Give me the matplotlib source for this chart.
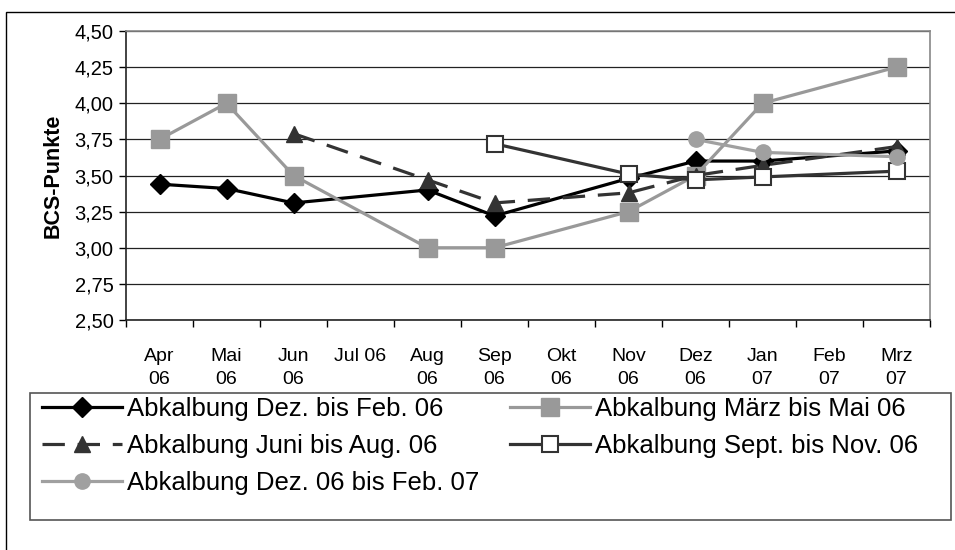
import numpy as np
import matplotlib
matplotlib.use('Agg')
import matplotlib.pyplot as plt
from matplotlib.patches import Rectangle
from matplotlib.ticker import FuncFormatter

plt.rcParams['font.family'] = ['Liberation Sans', 'DejaVu Sans']

# ---------------- data ----------------
months = ['Apr\n06', 'Mai\n06', 'Jun\n06', 'Jul 06', 'Aug\n06', 'Sep\n06',
          'Okt\n06', 'Nov\n06', 'Dez\n06', 'Jan\n07', 'Feb\n07', 'Mrz\n07']

dez_feb_06 = [3.44, 3.41, 3.31, None, 3.40, 3.22, None, 3.48, 3.60, 3.60, None, 3.67]
maerz_mai_06 = [3.75, 4.00, 3.50, None, 3.00, 3.00, None, 3.25, 3.50, 4.00, None, 4.25]
juni_aug_06 = [None, None, 3.79, None, 3.47, 3.31, None, 3.38, 3.50, 3.57, None, 3.70]
sept_nov_06 = [None, None, None, None, None, 3.72, None, 3.51, 3.47, 3.49, None, 3.53]
dez06_feb07 = [None, None, None, None, None, None, None, None, 3.75, 3.66, None, 3.63]

labels = ['Abkalbung Dez. bis Feb. 06', 'Abkalbung März bis Mai 06',
          'Abkalbung Juni bis Aug. 06', 'Abkalbung Sept. bis Nov. 06',
          'Abkalbung Dez. 06 bis Feb. 07']

W, H = 955, 550
fig = plt.figure(figsize=(W / 100, H / 100), dpi=100)
ax = fig.add_axes([126 / W, 1 - 320 / H, (930 - 126) / W, (320 - 31) / H])

# outer frame (only left/top edges visible in the reference)
fig.patches.append(Rectangle((6 / W, -0.2), 1.2, 1.2 - 12 / H, transform=fig.transFigure,
                             fill=False, edgecolor='black', linewidth=1.0))
# legend frame
fig.patches.append(Rectangle((30 / W, 1 - 520 / H), (951 - 30) / W, (520 - 393) / H,
                             transform=fig.transFigure, fill=False,
                             edgecolor='#555555', linewidth=1.2))


def xy(vals):
    x = [i for i, v in enumerate(vals) if v is not None]
    y = [v for v in vals if v is not None]
    return x, y


x, y = xy(dez_feb_06)
h1, = ax.plot(x, y, color='black', lw=2.3, marker='D', ms=10)
x, y = xy(maerz_mai_06)
h2, = ax.plot(x, y, color='#999999', lw=2.3, marker='s', ms=13)
x, y = xy(juni_aug_06)
h3, = ax.plot(x, y, color='#333333', lw=2.3, ls=(0, (7, 4)), marker='^', ms=12)
x, y = xy(sept_nov_06)
h4, = ax.plot(x, y, color='#333333', lw=2.3, marker='s', ms=12, mfc='white', mec='#333333',
              mew=1.5)
x, y = xy(dez06_feb07)
h5, = ax.plot(x, y, color='#a0a0a0', lw=2.3, marker='o', ms=11)

ax.set_xlim(-0.5, 11.5)
ax.set_ylim(2.5, 4.5)
ax.set_yticks(np.arange(2.5, 4.51, 0.25))
ax.yaxis.set_major_formatter(FuncFormatter(lambda v, p: f'{v:.2f}'.replace('.', ',')))
ax.grid(axis='y', color='#222222', lw=0.9)
ax.set_axisbelow(True)

ax.set_xticks(range(12))
ax.set_xticklabels(months, fontsize=14, linespacing=1.45)
ax.set_xticks(np.arange(-0.5, 12, 1), minor=True)
ax.tick_params(axis='x', which='major', length=0, pad=20)
ax.tick_params(axis='x', which='minor', length=5, width=1, direction='out')
ax.tick_params(axis='y', length=5, width=1, labelsize=14.5, pad=4)

ax.spines['left'].set_color('#222222')
ax.spines['bottom'].set_color('#222222')
ax.spines['top'].set_color('#888888')
ax.spines['right'].set_color('#888888')
for s in ax.spines.values():
    s.set_linewidth(1.2)

ax.set_ylabel('BCS-Punkte', fontsize=15.5, fontweight='bold', labelpad=8)

# legend: two columns placed separately, rows read left to right
leg_kw = dict(loc='upper left', fontsize=18.5, frameon=False, handlelength=3.1,
              handletextpad=0.2, labelspacing=0.5, borderpad=0, borderaxespad=0)
leg1 = fig.legend([h1, h3, h5], [labels[0], labels[2], labels[4]],
                  bbox_to_anchor=(42 / W, 1 - 397 / H), **leg_kw)
leg2 = fig.legend([h2, h4], [labels[1], labels[3]],
                  bbox_to_anchor=(510 / W, 1 - 397 / H), **leg_kw)

fig.savefig('out.png', dpi=100)
